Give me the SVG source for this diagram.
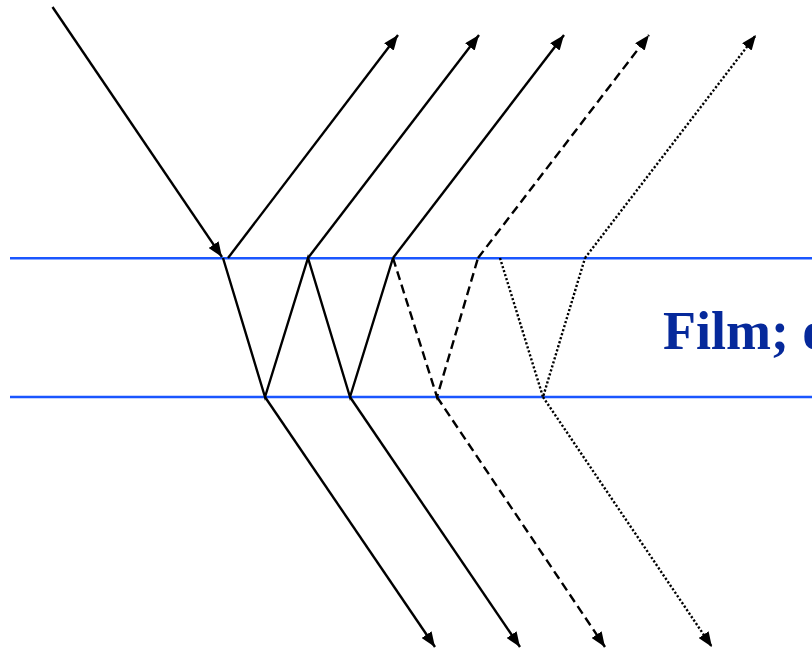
<svg xmlns="http://www.w3.org/2000/svg" width="812" height="648" viewBox="0 0 812 648">
<style>
.surf{stroke:#1a56ff;stroke-width:2.4;fill:none}
.ray{stroke:#000;stroke-width:2.4;fill:none}
.dash{stroke-dasharray:9 5}
.dot{stroke-dasharray:2.2 2}
.lbl{font-family:"Liberation Serif","Times New Roman",serif;font-weight:bold;font-size:54px;fill:#06299b}
</style>
<defs>
<marker id="ah" viewBox="0 0 15 12" refX="15" refY="6" markerWidth="15" markerHeight="12" markerUnits="userSpaceOnUse" orient="auto">
<path d="M0,0 L15,6 L0,12 z" fill="#000"/>
</marker>
</defs>
<g id="film">
<line class="surf" x1="10" y1="258.3" x2="812" y2="258.3"/>
<line class="surf" x1="10" y1="397" x2="812" y2="397"/>
<text class="lbl" x="663" y="349">Film; e</text>
</g>
<g id="connectors">
<path class="ray" d="M52.5,7 L222,257" marker-end="url(#ah)"/>
<path class="ray" d="M223,258 L265,397 L308,258 L350,397 L393,258"/>
<path class="ray dash" d="M393,258 L437,397 L478,258"/>
<path class="ray dot" d="M500,258 L543,397 L585,258"/>
<path class="ray" d="M228,258 L398,35" marker-end="url(#ah)"/>
<path class="ray" d="M308,258 L479,35" marker-end="url(#ah)"/>
<path class="ray" d="M393,258 L564,35" marker-end="url(#ah)"/>
<path class="ray dash" d="M478,258 L649,35" marker-end="url(#ah)"/>
<path class="ray dot" d="M585,258 L756,35" marker-end="url(#ah)"/>
<path class="ray" d="M265,397 L435,647" marker-end="url(#ah)"/>
<path class="ray" d="M350,397 L520,647" marker-end="url(#ah)"/>
<path class="ray dash" d="M437,397 L605,647" marker-end="url(#ah)"/>
<path class="ray dot" d="M543,397 L712,647" marker-end="url(#ah)"/>
</g>
</svg>
